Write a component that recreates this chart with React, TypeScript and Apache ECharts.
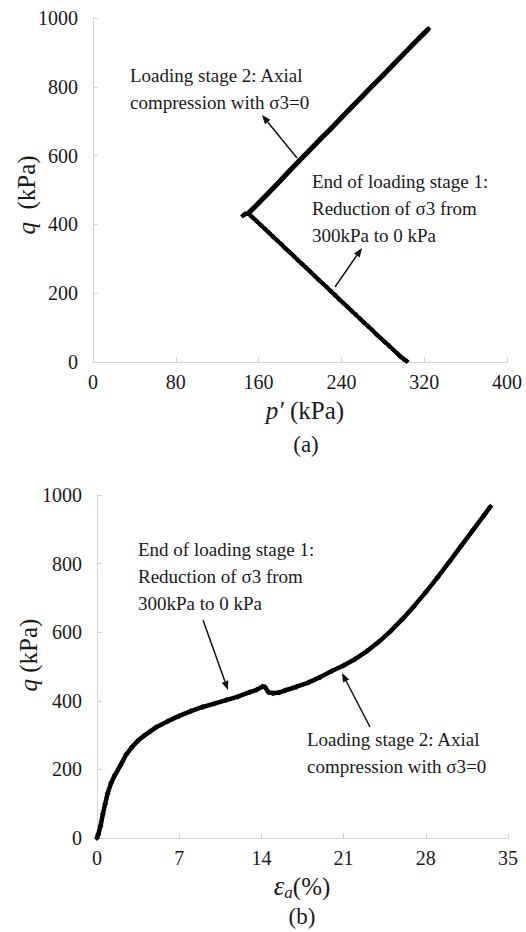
import React, { useEffect, useRef } from "react";
import * as echarts from "echarts";

// ---- Data ----
// Panel (a): stress path p' vs q
const stage1P = [303, 300, 297, 294, 290, 286, 282, 278, 274, 270, 266, 262, 258, 254, 250, 246, 242, 238, 234, 230, 226, 222, 218, 214, 210, 206, 202, 198, 194, 190, 186, 182, 178, 174, 170, 166, 162, 158, 154, 150, 147, 145];
const stage1Q = [3, 9, 16, 25, 36, 47, 58, 69, 80, 92, 103, 114, 126, 137, 148, 160, 171, 182, 194, 205, 217, 228, 239, 251, 262, 274, 285, 296, 308, 319, 330, 342, 353, 364, 376, 387, 398, 410, 421, 432, 430, 426];
const stage2P = [150, 155, 160, 170, 180, 190, 200, 210, 220, 230, 240, 250, 260, 270, 280, 290, 300, 310, 320, 324];
const stage2Q = [432, 447, 462, 493, 524, 556, 587, 618, 649, 679, 710, 741, 772, 803, 833, 864, 895, 926, 956, 968];

// Panel (b): axial strain vs q
const strainB = [0, 0.1, 0.3, 0.5, 0.7, 0.9, 1.2, 1.5, 2, 2.5, 3, 3.5, 4, 4.5, 5, 6, 7, 8, 9, 10, 11, 12, 13, 13.6, 14.1, 14.3, 14.6, 15, 15.5, 16, 17, 18, 19, 20, 21, 22, 23, 24, 25, 26, 27, 28, 29, 30, 31, 32, 33, 33.5];
const qB = [0, 10, 35, 70, 100, 130, 160, 182, 212, 244, 266, 284, 298, 310, 322, 340, 356, 370, 382, 392, 402, 412, 425, 432, 442, 440, 425, 422, 424, 430, 441, 453, 469, 487, 503, 522, 545, 572, 603, 638, 676, 717, 760, 805, 851, 897, 943, 966];

// Tick settings
const xTicksA = { min: 0, max: 400, interval: 80 };
const yTicks = { min: 0, max: 1000, interval: 200 };
const xTicksB = { min: 0, max: 35, interval: 7 };

const FONT = "Liberation Serif";
const TXT = "#1a1a1a";
const AXIS = "#d4d4d4";

function zip(a: number[], b: number[]) {
  return a.map((v, i) => [v, b[i]]);
}

function arrow(x1: number, y1: number, x2: number, y2: number) {
  const ang = Math.atan2(y2 - y1, x2 - x1);
  const len = 9;
  const w = 3.5;
  const bx = x2 - len * Math.cos(ang);
  const by = y2 - len * Math.sin(ang);
  const px = -Math.sin(ang) * w;
  const py = Math.cos(ang) * w;
  return [
    {
      type: "line",
      shape: { x1, y1, x2: bx, y2: by },
      style: { stroke: "#111", lineWidth: 1.5 },
    },
    {
      type: "polygon",
      shape: {
        points: [
          [x2, y2],
          [bx + px, by + py],
          [bx - px, by - py],
        ],
      },
      style: { fill: "#111" },
    },
  ];
}

function note(x: number, y: number, lines: string[]) {
  return {
    type: "text",
    x,
    y,
    style: {
      text: lines.join("\n"),
      fontFamily: FONT,
      fontSize: 19,
      fill: TXT,
      lineHeight: 27,
      align: "left",
      verticalAlign: "top",
    },
  };
}

function axisCommon() {
  return {
    axisLine: { show: true, lineStyle: { color: AXIS, width: 1 } },
    axisTick: { show: true, inside: true, length: 5, lineStyle: { color: AXIS } },
    splitLine: { show: false },
  };
}

export default function App() {
  const ref = useRef<HTMLDivElement>(null);
  useEffect(() => {
    if (!ref.current) return;
    const chart = echarts.init(ref.current, undefined, { renderer: "svg" });
    const fmt = (v: number) => String(v);
    const xLabel = { fontFamily: FONT, fontSize: 20, color: TXT, margin: 10, formatter: fmt };
    const yLabel = { fontFamily: FONT, fontSize: 20, color: TXT, margin: 15, formatter: fmt };
    const lineSeries = (data: number[][], xi: number, w: number) => ({
      type: "line",
      xAxisIndex: xi,
      yAxisIndex: xi,
      data,
      symbol: "diamond",
      symbolSize: 6,
      showSymbol: true,
      lineStyle: { color: "#000", width: w },
      itemStyle: { color: "#000" },
      silent: true,
    });
    const richTitle = {
      i: { fontFamily: FONT, fontSize: 25, fontStyle: "italic", fill: TXT },
      n: { fontFamily: FONT, fontSize: 25, fill: TXT },
    };
    chart.setOption({
      animation: false,
      backgroundColor: "#fff",
      grid: [
        { left: 93, top: 18, width: 414, height: 344 },
        { left: 97, top: 495, width: 411, height: 343 },
      ],
      xAxis: [
        { type: "value", gridIndex: 0, ...xTicksA, ...axisCommon(), axisLabel: xLabel },
        { type: "value", gridIndex: 1, ...xTicksB, ...axisCommon(), axisLabel: xLabel },
      ],
      yAxis: [
        { type: "value", gridIndex: 0, ...yTicks, ...axisCommon(), axisLabel: yLabel },
        { type: "value", gridIndex: 1, ...yTicks, ...axisCommon(), axisLabel: yLabel },
      ],
      series: [
        lineSeries(zip(stage1P, stage1Q), 0, 4),
        lineSeries(zip(stage2P, stage2Q), 0, 5),
        lineSeries(zip(strainB, qB), 1, 4.5),
      ],
      graphic: [
        // axis titles
        {
          type: "text",
          x: 26,
          y: 195,
          rotation: Math.PI / 2,
          style: { text: "{i|q}{n|  (kPa)}", align: "center", verticalAlign: "middle", rich: richTitle },
        },
        {
          type: "text",
          x: 305,
          y: 410,
          style: { text: "{i|p′}{n| (kPa)}", align: "center", verticalAlign: "middle", rich: richTitle },
        },
        {
          type: "text",
          x: 306,
          y: 444,
          style: { text: "(a)", fontFamily: FONT, fontSize: 23, fill: TXT, align: "center", verticalAlign: "middle" },
        },
        {
          type: "text",
          x: 28,
          y: 655,
          rotation: Math.PI / 2,
          style: { text: "{i|q}{n| (kPa)}", align: "center", verticalAlign: "middle", rich: richTitle },
        },
        {
          type: "text",
          x: 302,
          y: 886,
          style: {
            text: "{e|ε}{s|a}{n|(%)}",
            align: "center",
            verticalAlign: "middle",
            rich: {
              e: { fontFamily: FONT, fontSize: 27, fontStyle: "italic", fill: TXT, lineHeight: 30 },
              s: { fontFamily: FONT, fontSize: 17, fontStyle: "italic", fill: TXT, lineHeight: 12, verticalAlign: "bottom" },
              n: { fontFamily: FONT, fontSize: 25, fill: TXT, lineHeight: 30 },
            },
          },
        },
        {
          type: "text",
          x: 302,
          y: 916,
          style: { text: "(b)", fontFamily: FONT, fontSize: 23, fill: TXT, align: "center", verticalAlign: "middle" },
        },
        // annotations panel (a)
        note(130, 62, ["Loading stage 2: Axial", "compression with σ3=0"]),
        ...arrow(297, 158, 262, 115),
        note(312, 168, ["End of loading stage 1:", "Reduction of σ3 from", "300kPa to 0 kPa"]),
        ...arrow(335, 287, 362, 248),
        // annotations panel (b)
        note(138, 536, ["End of loading stage 1:", "Reduction of σ3 from", "300kPa to 0 kPa"]),
        ...arrow(203, 620, 228, 690),
        note(307, 726, ["Loading stage 2: Axial", "compression with σ3=0"]),
        ...arrow(370, 727, 342, 673),
      ],
    });
    return () => chart.dispose();
  }, []);
  return (
    <div
      ref={ref}
      style={{ position: "fixed", left: 0, top: 0, width: 526, height: 932, background: "#fff" }}
    />
  );
}
